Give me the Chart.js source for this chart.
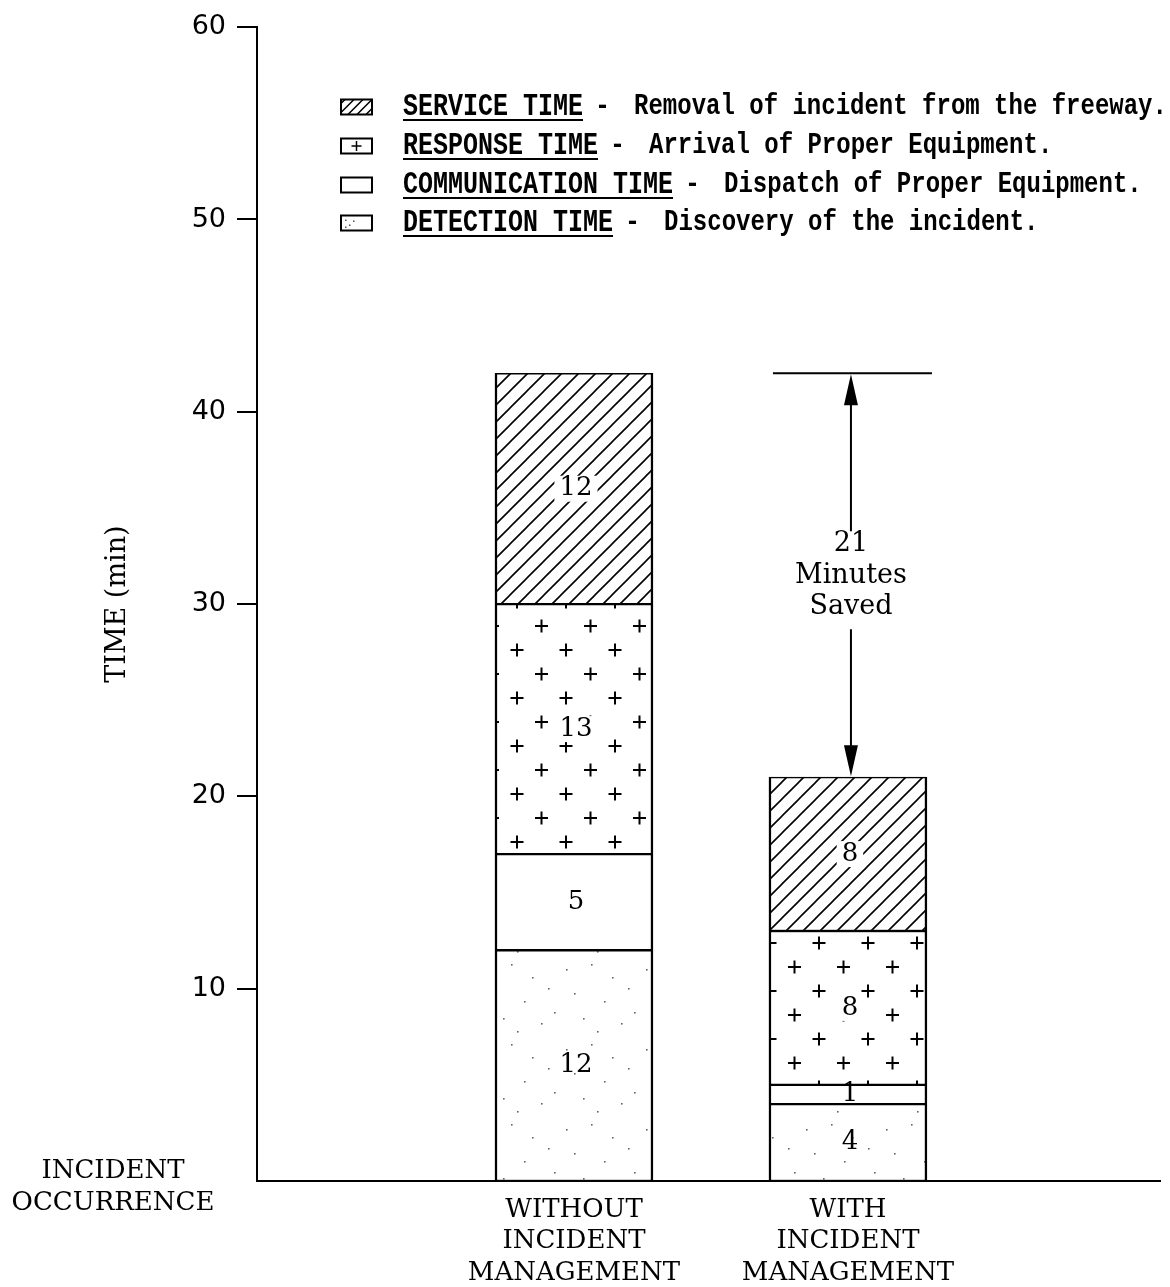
<!DOCTYPE html>
<html>
<head>
<meta charset="utf-8">
<script src="https://cdn.jsdelivr.net/npm/chart.js@4.4.1/dist/chart.umd.min.js"></script>
<style>
  html, body { margin: 0; padding: 0; background: #fff; }
  #wrap { width: 1170px; height: 1287px; }
</style>
</head>
<body>
<div id="wrap"><canvas id="chart"></canvas></div>
<script>
/* Incident duration: without vs with incident management */

const categories = [['WITHOUT', 'INCIDENT', 'MANAGEMENT'], ['WITH', 'INCIDENT', 'MANAGEMENT']];
const detectionTime = [12, 4];
const communicationTime = [5, 1];
const responseTime = [13, 8];
const serviceTime = [12, 8];
const yTicks = [10, 20, 30, 40, 50, 60];
const legendTitles = ['SERVICE TIME', 'RESPONSE TIME', 'COMMUNICATION TIME', 'DETECTION TIME'];
const legendNotes = ['Removal of incident from the freeway.', 'Arrival of Proper Equipment.',
  'Dispatch of Proper Equipment.', 'Discovery of the incident.'];

const SERIF = '"DejaVu Serif", serif';
const canvas = document.getElementById('chart');
const ctx0 = canvas.getContext('2d');

function makeTile(w, h, draw) {
  const c = document.createElement('canvas');
  c.width = w; c.height = h;
  const g = c.getContext('2d');
  g.fillStyle = '#fff';
  g.fillRect(0, 0, w, h);
  draw(g);
  return c;
}

// diagonal hatch for service time
const hatchTile = makeTile(17, 17, g => {
  g.strokeStyle = '#000'; g.lineWidth = 1.6;
  g.beginPath();
  g.moveTo(-2, 19); g.lineTo(19, -2);
  g.moveTo(-2, 2); g.lineTo(2, -2);
  g.moveTo(15, 19); g.lineTo(19, 15);
  g.stroke();
});

// staggered plus signs for response time
function plus(g, x, y, r) {
  g.moveTo(x - r, y); g.lineTo(x + r, y);
  g.moveTo(x, y - r); g.lineTo(x, y + r);
}
const plusTile = makeTile(49, 48, g => {
  g.strokeStyle = '#000'; g.lineWidth = 2;
  g.beginPath();
  plus(g, 12, 12, 6.5);
  plus(g, 36.5, 36, 6.5);
  g.stroke();
});

// sparse stipple for detection time
const dotSpots = [[6, 9], [31, 4], [52, 17], [14, 33], [44, 41], [68, 28], [23, 58], [61, 63], [74, 52], [37, 71]];
const dotTile = makeTile(80, 80, g => {
  g.fillStyle = '#666';
  dotSpots.forEach(([px, py]) => g.fillRect(px, py, 1.6, 1.6));
});

const hatch = ctx0.createPattern(hatchTile, 'repeat');
const dots = ctx0.createPattern(dotTile, 'repeat');
const plusA = ctx0.createPattern(plusTile, 'repeat');
plusA.setTransform(new DOMMatrix([1, 0, 0, 1, 505, 590]));
const plusB = ctx0.createPattern(plusTile, 'repeat');
plusB.setTransform(new DOMMatrix([1, 0, 0, 1, 758, 931]));

function series(label, values, bg) {
  return {
    label,
    data: values.map((v, i) => ({ x: i, y: v })),
    backgroundColor: bg,
    borderColor: '#000',
    borderWidth: { top: 1.5, bottom: 1.5, left: 2.5, right: 2.5 },
    borderSkipped: false,
    barThickness: 158
  };
}

const total = i => detectionTime[i] + communicationTime[i] + responseTime[i] + serviceTime[i];

// numbers inside the bar segments
const segmentLabels = {
  id: 'segmentLabels',
  afterDatasetsDraw(chart) {
    const { ctx } = chart;
    ctx.save();
    ctx.font = `26px ${SERIF}`;
    ctx.textAlign = 'center';
    ctx.textBaseline = 'middle';
    chart.data.datasets.forEach((ds, di) => {
      chart.getDatasetMeta(di).data.forEach((bar, i) => {
        const cy = (bar.y + bar.base) / 2;
        const txt = String(ds.data[i].y);
        if (di >= 2) {
          const w = ctx.measureText(txt).width + 10;
          ctx.fillStyle = '#fff';
          ctx.fillRect(bar.x - w / 2 + 2, cy - 13, w, 26);
        }
        ctx.fillStyle = '#000';
        ctx.fillText(txt, bar.x + 2, cy);
      });
    });
    ctx.restore();
  }
};

// "minutes saved" dimension arrow
const savedArrow = {
  id: 'savedArrow',
  afterDatasetsDraw(chart) {
    const { ctx, scales: { y } } = chart;
    const bar = chart.getDatasetMeta(3).data[1];
    const yTop = y.getPixelForValue(total(0));
    const yBot = y.getPixelForValue(total(1));
    const mid = (yTop + yBot) / 2;
    const cx = bar.x + 3;
    ctx.save();
    ctx.strokeStyle = '#000';
    ctx.fillStyle = '#000';
    ctx.lineWidth = 2;
    ctx.beginPath();
    ctx.moveTo(bar.x - bar.width / 2 + 4, yTop);
    ctx.lineTo(bar.x + bar.width / 2 + 5, yTop);
    ctx.moveTo(cx, yTop + 20); ctx.lineTo(cx, mid - 44);
    ctx.moveTo(cx, mid + 54); ctx.lineTo(cx, yBot - 20);
    ctx.stroke();
    ctx.beginPath();
    ctx.moveTo(cx, yTop + 1); ctx.lineTo(cx - 7, yTop + 32); ctx.lineTo(cx + 7, yTop + 32);
    ctx.closePath();
    ctx.moveTo(cx, yBot - 1); ctx.lineTo(cx - 7, yBot - 32); ctx.lineTo(cx + 7, yBot - 32);
    ctx.closePath();
    ctx.fill();
    ctx.font = `27px ${SERIF}`;
    ctx.textAlign = 'center';
    ctx.textBaseline = 'middle';
    ctx.fillText(String(total(0) - total(1)), cx, mid - 31);
    ctx.fillText('Minutes', cx, mid + 1);
    ctx.fillText('Saved', cx, mid + 32);
    ctx.restore();
  }
};

// text drawn a little taller than wide, like the typewriter lettering
function tallText(ctx, txt, x, y, sy) {
  ctx.save();
  ctx.translate(x, y);
  ctx.scale(1, sy);
  ctx.fillText(txt, 0, 0);
  ctx.restore();
}

// legend box swatches + underlined titles, and the origin caption
const sideText = {
  id: 'sideText',
  afterDraw(chart) {
    const { ctx } = chart;
    const rows = [107, 146, 185, 223];
    const bx = 341, bw = 31, bh = 15;
    ctx.save();
    rows.forEach((ry, r) => {
      const top = ry - bh / 2;
      ctx.fillStyle = '#fff';
      ctx.fillRect(bx, top, bw, bh);
      ctx.save();
      ctx.beginPath();
      ctx.rect(bx, top, bw, bh);
      ctx.clip();
      ctx.strokeStyle = '#000';
      ctx.fillStyle = '#555';
      ctx.lineWidth = 1.5;
      if (r === 0) {
        ctx.beginPath();
        for (let k = -20; k < 50; k += 9) { ctx.moveTo(bx + k, top + bh); ctx.lineTo(bx + k + bh, top); }
        ctx.stroke();
      } else if (r === 1) {
        ctx.beginPath();
        plus(ctx, bx + bw / 2, ry, 5);
        ctx.stroke();
      } else if (r === 3) {
        [[4, 4], [8, 9], [4, 11], [12, 5]].forEach(([px, py]) => ctx.fillRect(bx + px, top + py, 1.5, 1.5));
      }
      ctx.restore();
      ctx.strokeStyle = '#000';
      ctx.lineWidth = 2;
      ctx.strokeRect(bx, top, bw, bh);

      const tx = 403;
      ctx.fillStyle = '#000';
      ctx.textBaseline = 'middle';
      ctx.textAlign = 'left';
      ctx.font = 'bold 25px "Liberation Mono", monospace';
      tallText(ctx, legendTitles[r], tx, ry, 1.25);
      const tw = ctx.measureText(legendTitles[r]).width;
      ctx.fillRect(tx, ry + 12, tw, 2);
      tallText(ctx, '-', tx + tw + 12, ry, 1.1);
      ctx.font = 'bold 24px "Liberation Mono", monospace';
      tallText(ctx, legendNotes[r], tx + tw + 51, ry, 1.2);
    });
    ctx.font = `26px ${SERIF}`;
    ctx.textAlign = 'center';
    ctx.fillText('INCIDENT', 113, 1171);
    ctx.fillText('OCCURRENCE', 113, 1203);
    ctx.restore();
  }
};

new Chart(canvas, {
  type: 'bar',
  data: {
    datasets: [
      series('Detection time', detectionTime, dots),
      series('Communication time', communicationTime, '#fff'),
      series('Response time', responseTime, c => (c.dataIndex === 1 ? plusB : plusA)),
      series('Service time', serviceTime, hatch)
    ]
  },
  options: {
    responsive: true,
    maintainAspectRatio: false,
    animation: false,
    layout: { padding: { top: 19, right: 10, left: 0, bottom: 0 } },
    plugins: { legend: { display: false }, tooltip: { enabled: false } },
    scales: {
      x: {
        type: 'linear',
        stacked: true,
        offset: false,
        min: -1.157,
        max: 2.139,
        afterBuildTicks: s => { s.ticks = categories.map((c, i) => ({ value: i })); },
        afterFit: s => { s.height = 106; },
        grid: { display: false, drawTicks: false, offset: false },
        border: { display: true, color: '#000', width: 2 },
        ticks: {
          color: '#000', autoSkip: false, maxRotation: 0, padding: 13,
          font: { family: SERIF, size: 26, lineHeight: 1.22 },
          callback: v => categories[v]
        }
      },
      y: {
        stacked: true,
        min: 0,
        max: 60,
        afterBuildTicks: s => { s.ticks = yTicks.map(v => ({ value: v })); },
        afterFit: s => { s.width = 257; },
        grid: { drawOnChartArea: false, drawTicks: true, tickLength: 20, color: '#000', lineWidth: 2 },
        border: { display: true, color: '#000', width: 2 },
        ticks: { color: '#000', padding: 11, font: { family: '"DejaVu Sans", sans-serif', size: 27 } },
        title: {
          display: true, text: 'TIME (min)', color: '#000',
          font: { family: SERIF, size: 27 }, padding: { top: 102, bottom: 0 }
        }
      }
    }
  },
  plugins: [segmentLabels, savedArrow, sideText]
});
</script>
</body>
</html>
